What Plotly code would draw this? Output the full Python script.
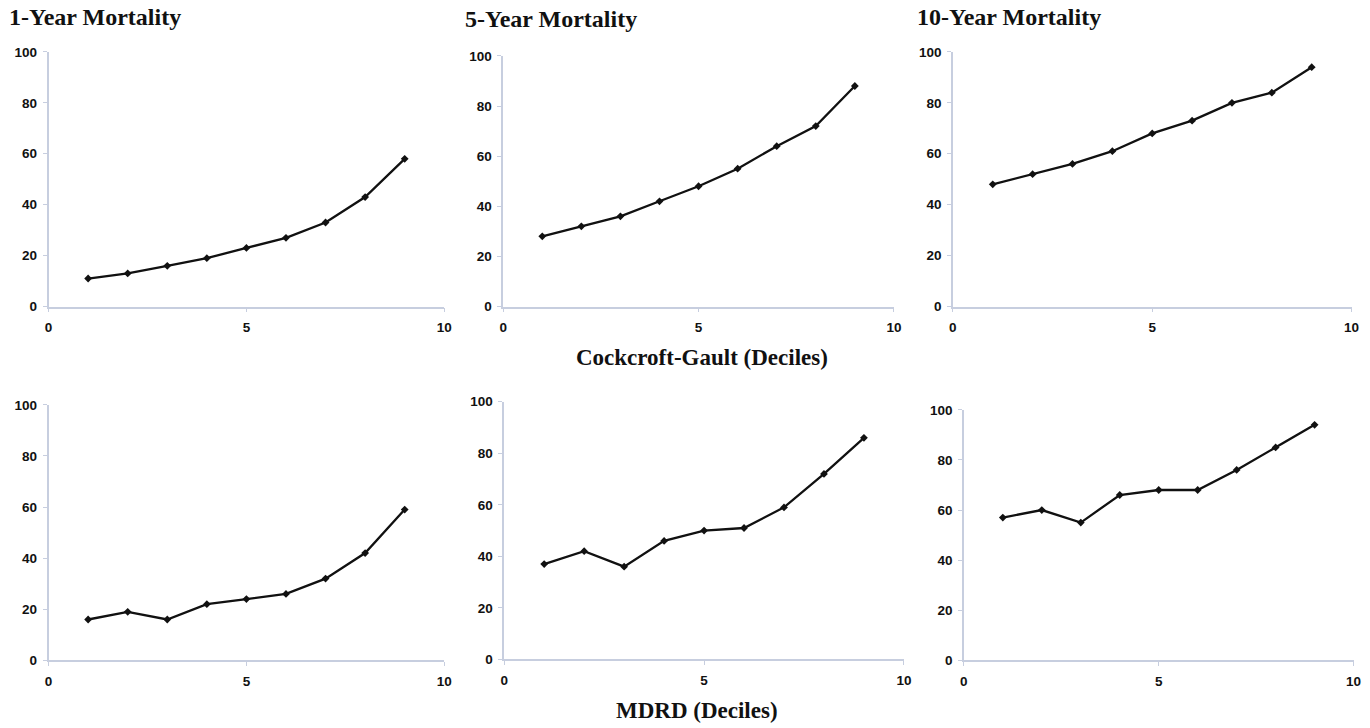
import plotly.graph_objects as go

deciles = [1, 2, 3, 4, 5, 6, 7, 8, 9]

cg_1yr = [11, 13, 16, 19, 23, 27, 33, 43, 58]
cg_5yr = [28, 32, 36, 42, 48, 55, 64, 72, 88]
cg_10yr = [48, 52, 56, 61, 68, 73, 80, 84, 94]

mdrd_1yr = [16, 19, 16, 22, 24, 26, 32, 42, 59]
mdrd_5yr = [37, 42, 36, 46, 50, 51, 59, 72, 86]
mdrd_10yr = [57, 60, 55, 66, 68, 68, 76, 85, 94]

titles = ["1-Year Mortality", "5-Year Mortality", "10-Year Mortality"]
row_labels = ["Cockcroft-Gault (Deciles)", "MDRD (Deciles)"]

x_ticks = [0, 5, 10]
y_ticks = [0, 20, 40, 60, 80, 100]

W, H = 1370, 728

# observed page->photo mapping compensation
SX, OX = 0.992, 2.4
SY, OY = 0.977, 8.2

def fx(px):
    return ((px - OX) / SX) / W

def fy(py):
    return 1 - ((py - OY) / SY) / H

# target pixel boxes in the photo (left, right, top, bottom)
boxes = [
    (47, 443, 53, 307), (502, 893, 57, 307), (952, 1351, 53, 307),
    (47, 443, 405, 660), (503, 903, 402, 659), (963, 1353, 410, 660),
]
series = [cg_1yr, cg_5yr, cg_10yr, mdrd_1yr, mdrd_5yr, mdrd_10yr]

fig = go.Figure()
axis_color = "#c7cedf"
tick_font = dict(family="Liberation Sans, Arial", size=13.5, color="#111111")

layout = {}
for i, (box, ys) in enumerate(zip(boxes, series)):
    n = i + 1
    xa = "x" if n == 1 else f"x{n}"
    ya = "y" if n == 1 else f"y{n}"
    fig.add_trace(go.Scatter(
        x=deciles, y=ys, mode="lines+markers", xaxis=xa, yaxis=ya,
        line=dict(color="#111111", width=2.3),
        marker=dict(symbol="diamond", size=6, color="#111111"),
        showlegend=False, cliponaxis=False,
    ))
    l, r, t, b = box
    xkey = "xaxis" if n == 1 else f"xaxis{n}"
    ykey = "yaxis" if n == 1 else f"yaxis{n}"
    layout[xkey] = dict(
        domain=[fx(l), fx(r)], range=[0, 10], anchor=ya,
        tickvals=x_ticks, ticktext=[f"<b>{v}</b>" for v in x_ticks],
        showgrid=False, zeroline=False, showline=True, linecolor=axis_color, linewidth=1.5,
        ticks="outside", ticklen=4, tickcolor=axis_color, tickfont=tick_font,
        ticklabelstandoff=4,
    )
    layout[ykey] = dict(
        domain=[fy(b), fy(t)], range=[0, 100], anchor=xa,
        tickvals=y_ticks, ticktext=[f"<b>{v}</b>" for v in y_ticks],
        showgrid=False, zeroline=False, showline=True, linecolor=axis_color, linewidth=1.5,
        ticks="outside", ticklen=4, tickcolor=axis_color, tickfont=tick_font,
        ticklabelstandoff=3,
    )

title_font = dict(family="Liberation Serif, Times New Roman", size=24, color="#111111")
label_font = dict(family="Liberation Serif, Times New Roman", size=23, color="#111111")
annotations = []
title_pos = [(5, 18), (462, 20), (914, 18)]
for txt, (px, py) in zip(titles, title_pos):
    annotations.append(dict(
        text=f"<b>{txt}</b>", x=fx(px), y=fy(py), xref="paper", yref="paper",
        xanchor="left", yanchor="middle", showarrow=False, font=title_font,
    ))
label_pos = [(701, 358), (696, 710)]
for txt, (px, py) in zip(row_labels, label_pos):
    annotations.append(dict(
        text=f"<b>{txt}</b>", x=fx(px), y=fy(py), xref="paper", yref="paper",
        xanchor="center", yanchor="middle", showarrow=False, font=label_font,
    ))

fig.update_layout(
    autosize=True, margin=dict(l=0, r=0, t=0, b=0),
    paper_bgcolor="white", plot_bgcolor="white",
    annotations=annotations, **layout,
)

# pin the plot div to the top-left corner of the page, sized to the window
fig.write_html(
    "out.html",
    config={"displayModeBar": False},
    default_width=f"{W}px",
    default_height=f"{H}px; position:absolute; left:0px; top:0px",
)
